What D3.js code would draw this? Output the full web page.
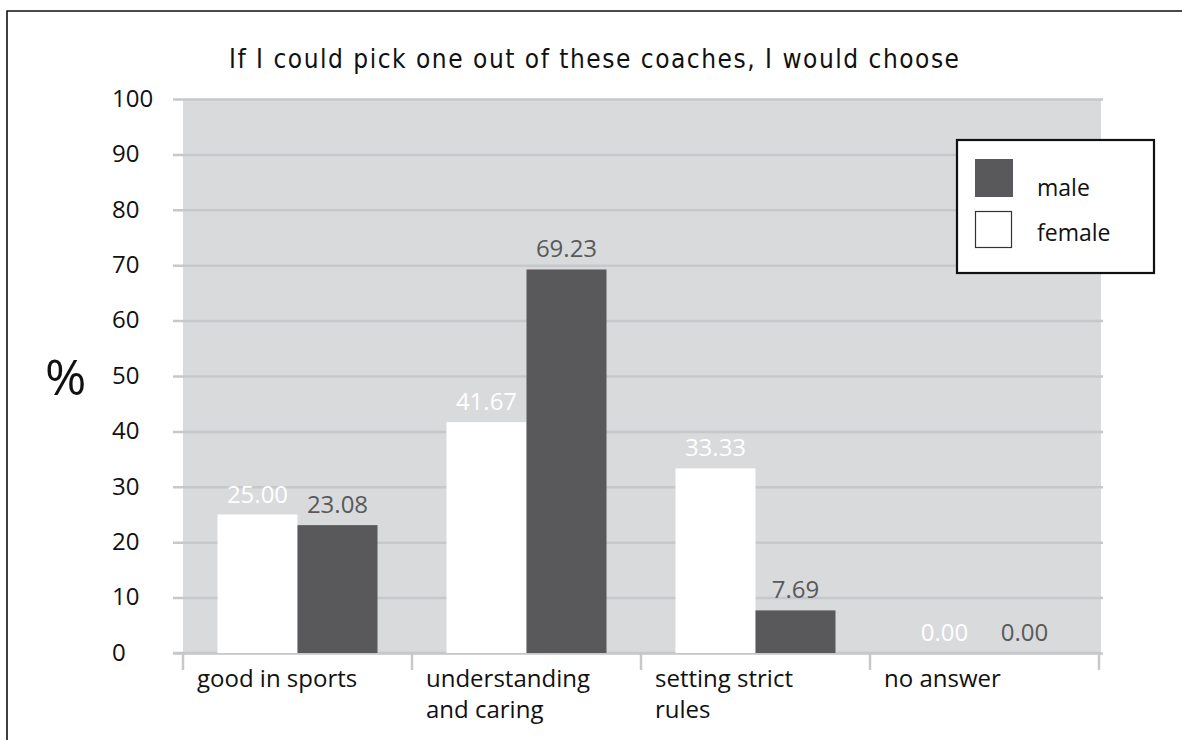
<!DOCTYPE html>
<html>
<head>
<meta charset="utf-8">
<script src="https://cdn.jsdelivr.net/npm/d3@7"></script>
<style>
  html, body { margin: 0; padding: 0; background: #fff; }
  svg { display: block; }
</style>
</head>
<body>
<svg id="chart" width="1182" height="740"></svg>
<script>
// Survey answers by gender, in percent
const categories = [["good in sports"], ["understanding", "and caring"], ["setting strict", "rules"], ["no answer"]];
const series = ["female", "male"];
const femaleValues = [25.00, 41.67, 33.33, 0.00];
const maleValues = [23.08, 69.23, 7.69, 0.00];
const yTickValues = [0, 10, 20, 30, 40, 50, 60, 70, 80, 90, 100];
const titleText = "If I could pick one out of these coaches, I would choose";
const legendItems = ["male", "female"];

const colors = { male: "#59595b", female: "#ffffff" };
const labelColors = { male: "#59595b", female: "#ffffff" };
const gridColor = "#c7c8ca";
const plotBg = "#d9dadc";
const labelFont = "'Open Sans', 'Noto Sans', sans-serif";

const svg = d3.select("#chart");

// frame
svg.append("path")
  .attr("d", "M7,740 L7,11 L1182,11")
  .attr("fill", "none").attr("stroke", "#111").attr("stroke-width", 1.6);

const plot = { left: 183, right: 1101, top: 99, bottom: 653 };
const catKeys = categories.map(c => c.join(" "));

const x = d3.scaleBand().domain(catKeys).range([183, 1099]).padding(0);
const groupWidth = 160;
const xInner = d3.scaleBand().domain(series)
  .range([(x.bandwidth() - groupWidth) / 2, (x.bandwidth() + groupWidth) / 2]).padding(0);
const y = d3.scaleLinear().domain([0, 100]).range([plot.bottom, plot.top]);

// plot background
svg.append("rect")
  .attr("x", plot.left).attr("y", plot.top)
  .attr("width", plot.right - plot.left).attr("height", plot.bottom - plot.top)
  .attr("fill", plotBg);

// y axis with gridlines across the plot
const yAxis = svg.append("g")
  .attr("transform", "translate(173,0)")
  .call(d3.axisRight(y).tickValues(yTickValues).tickSize(930).tickSizeOuter(0));
yAxis.select(".domain").remove();
yAxis.selectAll(".tick line").attr("stroke", gridColor).attr("stroke-width", 2.5);
yAxis.selectAll(".tick text")
  .attr("x", 112 - 173).attr("dy", "0.3em").attr("y", 0)
  .attr("text-anchor", "start")
  .style("font-family", labelFont).style("font-size", "24px").attr("fill", "#111");

// x axis: baseline and category separators
const boundaries = catKeys.map(k => x(k)).concat([x.range()[1]]);
const xAxis = svg.append("g");
xAxis.append("line")
  .attr("x1", 173).attr("x2", plot.right)
  .attr("y1", y(0)).attr("y2", y(0))
  .attr("stroke", gridColor).attr("stroke-width", 2.5);
xAxis.selectAll("line.sep").data(boundaries).join("line")
  .attr("class", "sep")
  .attr("x1", d => d).attr("x2", d => d)
  .attr("y1", y(0)).attr("y2", y(0) + 17)
  .attr("stroke", gridColor).attr("stroke-width", 2.5);

const catLabels = xAxis.selectAll("text.cat").data(categories).join("text")
  .attr("class", "cat")
  .attr("x", (d, i) => x(catKeys[i]) + 14)
  .attr("y", 687)
  .style("font-family", labelFont).style("font-size", "24px").attr("fill", "#111");
catLabels.selectAll("tspan").data(d => d).join("tspan")
  .attr("x", function () { return d3.select(this.parentNode).attr("x"); })
  .attr("dy", (d, i) => i === 0 ? 0 : 31)
  .text(d => d);

// bars
const rows = catKeys.map((k, i) => ({ key: k, female: femaleValues[i], male: maleValues[i] }));
const groups = svg.append("g").selectAll("g").data(rows).join("g")
  .attr("transform", d => `translate(${x(d.key)},0)`);

groups.selectAll("rect").data(d => series.map(s => ({ s, v: d[s] }))).join("rect")
  .attr("x", d => xInner(d.s))
  .attr("width", xInner.bandwidth())
  .attr("y", d => y(d.v))
  .attr("height", d => y(0) - y(d.v))
  .attr("fill", d => colors[d.s]);

groups.selectAll("text").data(d => series.map(s => ({ s, v: d[s] }))).join("text")
  .attr("x", d => xInner(d.s) + xInner.bandwidth() / 2)
  .attr("y", d => y(d.v) - 12)
  .attr("text-anchor", "middle")
  .style("font-family", labelFont).style("font-size", "24px")
  .attr("fill", d => labelColors[d.s])
  .text(d => d3.format(".2f")(d.v));

// title
svg.append("text")
  .attr("x", 594).attr("y", 68)
  .attr("text-anchor", "middle")
  .attr("textLength", 730)
  .attr("lengthAdjust", "spacing")
  .style("font-family", "'DejaVu Sans Condensed', 'DejaVu Sans', sans-serif")
  .style("font-size", "26px")
  .attr("fill", "#111")
  .text(titleText);

// y axis unit
svg.append("text")
  .attr("x", 45).attr("y", 395)
  .style("font-family", labelFont).style("font-size", "50px")
  .attr("fill", "#111")
  .text("%");

// legend
const legend = svg.append("g");
legend.append("rect")
  .attr("x", 957).attr("y", 140).attr("width", 197).attr("height", 133)
  .attr("fill", "#fff").attr("stroke", "#111").attr("stroke-width", 2.2);
const legendRows = legend.selectAll("g.item").data(legendItems).join("g")
  .attr("class", "item")
  .attr("transform", (d, i) => `translate(975,${159 + i * 52})`);
legendRows.append("rect")
  .attr("x", d => d === "female" ? 0.5 : 0)
  .attr("y", d => d === "female" ? 0.5 : 0)
  .attr("width", d => d === "female" ? 36 : 38)
  .attr("height", d => d === "female" ? 36 : 38)
  .attr("fill", d => colors[d])
  .attr("stroke", d => d === "female" ? "#333" : "none")
  .attr("stroke-width", 1.2);
legendRows.append("text")
  .attr("x", 62).attr("y", (d, i) => i === 0 ? 37 : 30)
  .style("font-family", labelFont).style("font-size", "23px")
  .attr("fill", "#111")
  .text(d => d);
</script>
</body>
</html>
